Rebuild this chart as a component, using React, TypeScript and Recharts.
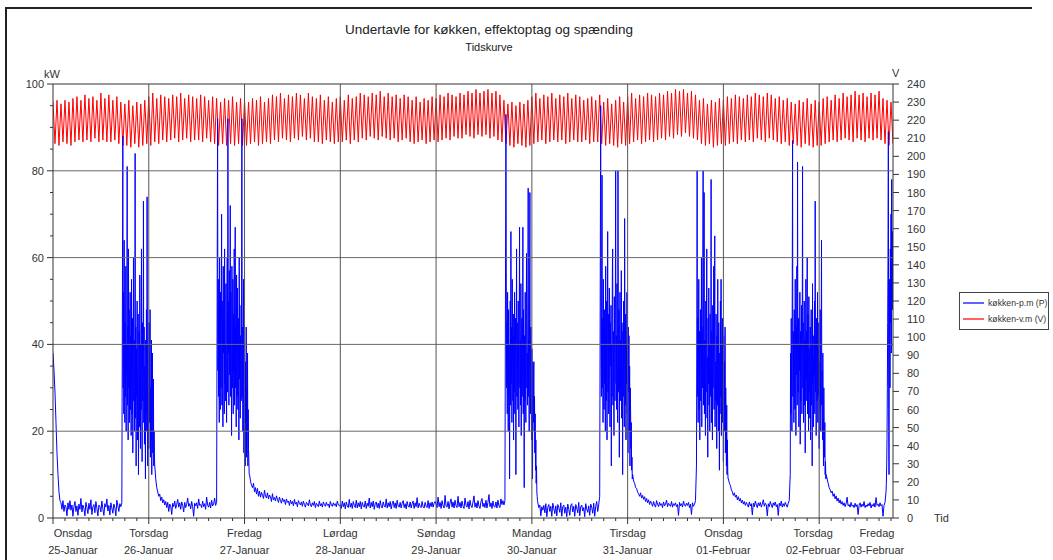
import { ComposedChart, Line, XAxis, YAxis, ReferenceLine, Legend } from 'recharts';

const dayNames = ['Onsdag', 'Torsdag', 'Fredag', 'Lørdag', 'Søndag', 'Mandag', 'Tirsdag', 'Onsdag', 'Torsdag', 'Fredag'];
const dateNames = ['25-Januar', '26-Januar', '27-Januar', '28-Januar', '29-Januar', '30-Januar', '31-Januar', '01-Februar', '02-Februar', '03-Februar'];
// where the day captions sit (hours from 25-Jan 00:00); first and last are pulled inside the plot
const labelHours = [5, 24, 48, 72, 96, 120, 144, 168, 190.5, 206.5];
const dayLines = [24, 48, 72, 96, 120, 144, 168, 192];
const kwGrid = [20, 40, 60, 80];

// køkken-p.m (P), kW, one reading per 15 min
const powerWed25 = [
	38, 34, 29, 22, 15, 10, 6, 4, 3.5, 2, 4, 1.5,
	3, 2.5, 0.5, 3.5, 2, 4, 1.8, 3, 0.4, 2.6, 3.8, 1.5,
	2.8, 0.6, 3.2, 2, 4.5, 1.4, 3, 2.2, 0.5, 3.6, 2.4, 1,
	3.4, 2, 4.2, 0.8, 2.6, 3.1, 1.2, 3.8, 2.2, 0.5, 3, 2.6,
	1.4, 3.9, 2.1, 0.6, 3.3, 2.5, 4.4, 1.6, 2.9, 0.7, 3.5, 2.3,
	1.1, 3.2, 2.4, 0.5, 4.1, 2.8, 1.5, 3.3, 2.6, 3.5, 88, 30,
	42, 20, 80, 26, 45, 18, 38, 24, 84, 14, 40, 22,
	48, 12, 36, 25, 72, 16, 44, 10, 46, 22, 74, 18,
];
const powerThu26 = [
	42, 14, 48, 12, 38, 10, 12, 9, 7, 6, 5, 5.5,
	4, 4.8, 3.5, 4.2, 3, 3.8, 2.4, 3.6, 1.5, 3.2, 2.8, 0.8,
	3.4, 2.6, 3.9, 2.2, 3.1, 4.3, 2.5, 3.5, 2, 3.7, 2.9, 1.4,
	3.6, 2.4, 3.2, 4.6, 2.7, 3.3, 2.1, 3.8, 2.6, 0.4, 3.4, 2.8,
	3.5, 2.2, 4.4, 2.9, 3.1, 2.4, 3.9, 2.6, 3.3, 2, 4.8, 3,
	2.5, 3.6, 2.3, 4.1, 2.8, 3.2, 4.6, 2.9, 3.6, 92, 28, 60,
	22, 70, 18, 44, 24, 40, 16, 92, 26, 72, 20, 46,
	24, 67, 18, 42, 26, 38, 14, 48, 20, 92, 24, 40,
];
const powerFri27 = [
	16, 44, 12, 36, 18, 10, 8.5, 7.5, 7, 8, 6, 7,
	5.5, 6.8, 5, 6.2, 4.8, 5.9, 5.2, 4.5, 6.4, 5, 4.6, 5.8,
	4.4, 5.3, 4.9, 3.8, 5.6, 4.2, 4.7, 3.9, 5.1, 4.3, 3.6, 4.8,
	4, 3.4, 4.6, 3.8, 4.2, 3.1, 4.4, 3.6, 3.9, 2.9, 4.1, 3.3,
	3.8, 2.8, 4.3, 3.2, 3.6, 2.6, 4, 3.4, 3, 3.7, 2.7, 3.9,
	3.1, 2.5, 3.6, 3.3, 2.8, 4.2, 3, 2.6, 3.5, 2.9, 3.8, 2.4,
	3.4, 3, 2.6, 3.9, 2.8, 3.3, 2.5, 3.7, 3.1, 2.7, 3.6, 2.9,
	3.2, 2.4, 3.8, 3, 2.7, 3.5, 2.9, 3.3, 2.6, 3.9, 3, 2.8,
];
const powerSat28 = [
	3.1, 2.2, 3.9, 2.6, 3.5, 2.1, 3.7, 2.8, 2.4, 4.3, 2.5, 3.4,
	2.2, 3.8, 2.9, 2.4, 4.1, 2.3, 3.5, 2.6, 3.8, 2.1, 3.6, 2.8,
	2.5, 3.9, 2.2, 3.4, 2.7, 4.6, 2.3, 3.6, 2.6, 3.9, 2, 3.3,
	3.7, 2.4, 3.4, 2.2, 4, 2.7, 2.3, 3.7, 2.8, 2.5, 4.4, 2.3,
	3.5, 2.6, 3.8, 2.1, 3.3, 3.9, 2.4, 3.5, 2.2, 4.1, 2.7, 2.5,
	3.6, 2.3, 3.4, 4, 2.4, 3.3, 2.1, 3.8, 2.7, 2.5, 3.7, 2.3,
	3.3, 3.9, 2.2, 3.5, 2.6, 4.7, 2.3, 3.4, 2.7, 2.4, 3.8, 2.6,
	2.3, 3.6, 2.7, 2.4, 4, 2.2, 3.5, 2.6, 3.7, 2.5, 3.4, 3.8,
];
const powerSun29 = [
	3.2, 2.4, 4.8, 2.6, 3.6, 2.2, 4, 2.8, 2.3, 5.2, 2.7, 2.5,
	3.8, 2.1, 3.5, 4.4, 2.5, 3.7, 2.3, 4.1, 2.8, 2.4, 5, 2.6,
	3.6, 2.3, 3.9, 2.7, 2.2, 4.6, 2.9, 2.5, 3.8, 2.1, 4.1, 2.8,
	2.4, 3.7, 5.1, 2.5, 3.5, 2.3, 4, 2.7, 2.2, 3.8, 4.5, 2.6,
	3.4, 2.4, 4.1, 2.3, 3.6, 5.4, 2.6, 3.5, 2.2, 3.9, 2.7, 2.5,
	3.7, 2.3, 4.1, 2.8, 2.4, 4.4, 3.1, 4, 3, 4, 93, 28,
	59, 22, 40, 14, 66, 24, 46, 20, 42, 9, 62, 26,
	67, 18, 42, 24, 67, 16, 40, 22, 61, 10, 76, 20,
];
const powerMon30 = [
	75, 18, 36, 12, 8, 5, 3.5, 2.4, 3, 0.5, 2.6, 1.8,
	2.9, 1.2, 3.3, 0.3, 2.5, 3.1, 1.5, 2.7, 0.4, 3.4, 2.2, 1,
	2.8, 0.5, 3.1, 2.4, 1.3, 3.5, 0.4, 2.6, 3, 1.1, 2.5, 0.3,
	3.2, 2, 0.6, 2.9, 3.3, 1.4, 2.7, 0.4, 3.1, 2.3, 1.2, 3.6,
	0.5, 2.6, 3, 1.6, 2.4, 0.3, 3.3, 2.1, 1.3, 2.8, 0.6, 3.2,
	2.5, 1.1, 3.4, 0.4, 2.7, 3.8, 1.5, 3, 5, 95, 28, 79,
	22, 44, 16, 66, 24, 40, 12, 46, 20, 62, 26, 38,
	81, 18, 80, 22, 44, 10, 40, 24, 69, 14, 38, 20,
];
const powerTue31 = [
	46, 12, 42, 16, 30, 10, 8.5, 8, 7, 6.8, 6, 5.6,
	5, 5.8, 4.6, 5.2, 4.3, 4.9, 3.8, 4.5, 3.5, 4.2, 3.1, 3.9,
	3.4, 2.7, 3.8, 3, 2.5, 4, 3.2, 2.6, 3.6, 2.9, 3.3, 2.4,
	3.7, 2.8, 3.2, 4.1, 2.6, 3.4, 3, 2.7, 3.8, 2.5, 3.3, 2.9,
	3.5, 2.6, 3.1, 0.6, 3.6, 2.8, 3.3, 2.5, 3.9, 3, 2.7, 3.4,
	2.9, 3.6, 2.4, 3.2, 0.8, 3.5, 2.7, 3.1, 4, 12, 80, 24,
	46, 18, 40, 26, 80, 14, 75, 22, 42, 10, 38, 24,
	48, 16, 78, 20, 40, 12, 65, 26, 44, 18, 55, 14,
];
const powerWed01 = [
	40, 22, 46, 10, 36, 9, 8, 7.5, 6.5, 6, 5.2, 5.8,
	4.8, 5.3, 4.2, 4.9, 3.9, 4.5, 3.5, 4.1, 3.2, 3.8, 2.9, 3.6,
	3.1, 2.5, 3.7, 2.8, 3.3, 0.7, 3.4, 2.6, 3.9, 3, 2.4, 3.5,
	2.8, 3.6, 2.5, 3.2, 4.2, 2.7, 3.4, 3, 0.5, 3.3, 2.6, 3.8,
	3, 2.4, 3.5, 2.9, 3.7, 2.6, 3.1, 0.6, 3.4, 2.8, 3.9, 2.5,
	3.3, 2.7, 3.6, 3, 2.5, 3.4, 4, 10, 46, 87, 22, 44,
	16, 40, 82, 24, 38, 12, 46, 20, 81, 26, 42, 14,
	40, 60, 20, 44, 10, 38, 24, 46, 73, 16, 42, 22,
];
const powerThu02 = [
	48, 18, 40, 64, 20, 36, 12, 10, 9, 8, 7, 6.5,
	5.8, 6.2, 5, 5.6, 4.4, 5.1, 3.9, 4.6, 3.5, 4.2, 3.2, 3.8,
	2.9, 3.5, 2.6, 3.3, 4.8, 2.8, 3.1, 2.5, 3.6, 2.7, 3, 2.4,
	3.4, 2.6, 3.1, 0.8, 2.9, 3.5, 2.5, 3.2, 2.7, 3.8, 2.4, 3,
	2.6, 3.3, 2.8, 3.6, 2.3, 3.1, 2.7, 3.4, 2.5, 4.7, 2.9, 3.2,
	2.6, 3.5, 2.8, 3.1, 0.4, 2.9, 3.6, 10, 25, 89, 20, 60,
	45, 78, 66,
];

// evening cooking periods, finer readings: one per 5 min, starting at blockStarts (hours)
const blockStarts = [17.5, 41.25, 113.5, 137.25, 161.25, 184.75, 208.75];
const blockWed25 = [
	88, 30, 52, 24, 64, 38, 22, 45, 28, 58, 20, 40,
	33, 81, 26, 44, 18, 62, 30, 48, 22, 36, 52, 25,
	42, 19, 55, 31, 24, 46, 15, 38, 60, 27, 41, 20,
	35, 84, 23, 44, 12, 39, 28, 50, 18, 33, 47, 10,
	29, 43, 21, 56, 34, 16, 40, 25, 62, 30, 13, 45,
	27, 38, 73, 22, 44, 17, 35, 28, 9, 41, 24, 48,
	20, 74, 31, 12, 40, 26, 16, 45, 22, 33, 48, 14,
	30, 18, 41, 10, 27, 38, 15, 24, 32, 12, 20, 14,
];
const blockThu26 = [
	92, 34, 55, 28, 48, 22, 60, 36, 25, 52, 30, 44,
	70, 26, 50, 33, 21, 58, 38, 46, 24, 62, 31, 40,
	27, 54, 35, 22, 48, 60, 29, 92, 38, 50, 26, 57,
	33, 45, 72, 28, 52, 36, 19, 58, 41, 30, 55, 24,
	47, 34, 62, 26, 51, 67, 30, 44, 21, 56, 38, 28,
	53, 25, 46, 37, 18, 60, 32, 49, 23, 42, 35, 27,
	50, 92, 28, 44, 20, 38, 55, 15, 40, 26, 33, 12,
	36, 22, 44, 14, 30, 20, 38, 12, 25, 16, 13, 10,
];
const blockSun29 = [
	93, 59, 30, 45, 24, 52, 36, 20, 48, 28, 40, 9,
	34, 50, 26, 66, 31, 44, 22, 55, 38, 27, 47, 18,
	42, 29, 52, 24, 37, 46, 10, 40, 62, 28, 45, 33,
	25, 50, 35, 21, 44, 67, 30, 41, 26, 54, 19, 38,
	46, 28, 36, 67, 24, 48, 33, 7, 42, 27, 52, 31,
	22, 45, 61, 30, 38, 26, 50, 76, 28, 41, 20, 46,
	75, 33, 24, 44, 30, 18, 39, 26, 9, 36, 22, 30,
	36, 20, 28, 15, 24, 11, 18, 8, 12, 6, 5, 4,
];
const blockMon30 = [
	95, 40, 28, 52, 79, 30, 46, 22, 55, 34, 25, 48,
	31, 44, 20, 58, 36, 27, 50, 18, 42, 66, 29, 47,
	24, 38, 53, 30, 21, 45, 35, 49, 12, 40, 28, 56,
	62, 26, 43, 33, 19, 51, 38, 27, 46, 80, 31, 42,
	25, 54, 36, 22, 80, 44, 29, 48, 14, 39, 52, 27,
	41, 30, 57, 23, 45, 35, 10, 43, 28, 50, 33, 21,
	69, 36, 26, 47, 18, 40, 31, 52, 24, 38, 15, 44,
	29, 42, 20, 35, 12, 30, 24, 16, 22, 11, 14, 9,
];
const blockTue31 = [
	12, 40, 80, 28, 46, 22, 38, 55, 25, 43, 18, 36,
	48, 27, 33, 60, 21, 44, 30, 52, 80, 26, 39, 75,
	24, 41, 33, 19, 50, 29, 45, 62, 23, 37, 14, 46,
	31, 53, 26, 40, 20, 47, 35, 28, 78, 22, 43, 33,
	18, 49, 30, 38, 58, 25, 44, 65, 21, 36, 27, 47,
	32, 16, 42, 26, 55, 34, 20, 45, 29, 11, 38, 24,
	50, 28, 55, 19, 40, 31, 46, 22, 35, 13, 42, 26,
	36, 20, 44, 15, 30, 22, 12, 26, 10, 18, 11, 9,
];
const blockWed01 = [
	10, 38, 24, 46, 30, 20, 52, 87, 28, 43, 35, 22,
	48, 31, 25, 55, 40, 19, 44, 33, 58, 26, 82, 37,
	29, 46, 21, 40, 34, 52, 17, 43, 27, 36, 49, 24,
	38, 81, 30, 45, 22, 33, 50, 26, 41, 15, 37, 55,
	27, 43, 32, 60, 24, 47, 36, 20, 51, 29, 39, 23,
	44, 18, 35, 48, 26, 40, 12, 54, 31, 42, 21, 37,
	33, 50, 24, 73, 29, 41, 19, 46, 35, 27, 52, 22,
	39, 28, 45, 16, 36, 25, 48, 31, 20, 42, 64, 26,
	34, 18, 38, 24, 12, 30, 20, 14, 22, 10, 13, 9,
];
const blockFri03 = [
	6, 8, 12, 18, 30, 45, 60, 89, 25, 10, 40, 55,
	30, 62, 45, 70, 38, 78, 50, 66, 48, 65,
];

// køkken-v.m (V), one reading per 30 min
const voltWed25 = [
	230, 207, 231, 206, 229, 208, 231, 207, 230, 206, 232, 208,
	233, 209, 231, 208, 234, 209, 232, 208, 233, 210, 231, 208,
	235, 209, 232, 208, 234, 208, 231, 209, 233, 207, 230, 206,
	229, 206, 231, 205, 228, 207, 230, 205, 229, 206, 231, 207,
];
const voltThu26 = [
	233, 206, 235, 208, 232, 207, 234, 209, 233, 208, 232, 209,
	234, 210, 233, 208, 235, 209, 232, 210, 234, 208, 233, 209,
	232, 209, 234, 208, 233, 210, 231, 208, 233, 207, 232, 206,
	230, 207, 232, 206, 231, 207, 233, 206, 230, 207, 232, 206,
];
const voltFri27 = [
	231, 206, 230, 207, 232, 208, 231, 206, 233, 207, 230, 208,
	232, 207, 234, 209, 233, 208, 235, 210, 232, 209, 234, 208,
	233, 210, 235, 209, 234, 211, 232, 209, 235, 210, 233, 208,
	232, 208, 234, 207, 231, 209, 233, 208, 230, 207, 232, 208,
];
const voltSat28 = [
	233, 208, 231, 209, 234, 207, 232, 209, 233, 208, 235, 210,
	234, 209, 233, 211, 235, 210, 234, 209, 236, 211, 233, 210,
	235, 209, 233, 210, 234, 208, 232, 209, 234, 210, 233, 208,
	231, 207, 233, 208, 230, 209, 232, 207, 231, 208, 233, 209,
];
const voltSun29 = [
	232, 208, 234, 209, 233, 210, 235, 209, 234, 211, 233, 210,
	235, 210, 234, 212, 236, 211, 235, 210, 237, 212, 235, 211,
	236, 212, 237, 210, 235, 211, 236, 209, 234, 208, 231, 207,
	229, 206, 230, 205, 228, 207, 230, 206, 229, 205, 231, 206,
];
const voltMon30 = [
	233, 207, 235, 208, 232, 209, 234, 207, 233, 208, 235, 209,
	232, 208, 234, 209, 233, 207, 235, 208, 232, 209, 234, 208,
	233, 208, 231, 209, 232, 207, 233, 208, 231, 208, 234, 207,
	230, 206, 232, 207, 229, 206, 231, 205, 233, 207, 230, 206,
];
const voltTue31 = [
	233, 207, 235, 208, 232, 209, 234, 207, 233, 208, 235, 209,
	234, 208, 233, 209, 235, 210, 234, 209, 236, 211, 235, 210,
	237, 212, 236, 211, 237, 213, 235, 211, 236, 210, 234, 209,
	231, 207, 232, 206, 229, 207, 231, 205, 230, 206, 232, 207,
];
const voltWed01 = [
	231, 206, 233, 207, 232, 208, 234, 207, 233, 209, 232, 208,
	234, 209, 233, 208, 235, 210, 234, 209, 233, 208, 235, 210,
	234, 209, 232, 208, 233, 207, 231, 208, 232, 206, 230, 207,
	229, 206, 231, 205, 230, 207, 232, 206, 229, 205, 231, 206,
];
const voltThu02 = [
	230, 206, 232, 207, 233, 208, 231, 209, 234, 208, 232, 209,
	235, 210, 233, 209, 234, 208, 236, 210, 234, 209, 235, 208,
	233, 210, 235, 209, 234, 210, 236, 209, 232, 207, 231, 206,
	230, 207,
];

const powerDays = [powerWed25, powerThu26, powerFri27, powerSat28, powerSun29, powerMon30, powerTue31, powerWed01, powerThu02];
const blockDays = [blockWed25, blockThu26, blockSun29, blockMon30, blockTue31, blockWed01, blockFri03];
const voltDays = [voltWed25, voltThu26, voltFri27, voltSat28, voltSun29, voltMon30, voltTue31, voltWed01, voltThu02];

const blocks = blockDays.map((values, i) => ({ start: blockStarts[i], end: blockStarts[i] + values.length / 12, values }));
const inBlock = (t: number) => blocks.some((b) => t >= b.start - 1e-6 && t < b.end - 1e-6);

const powerData = [
	...powerDays.flatMap((day, d) => day.map((kw, i) => ({ t: d * 24 + i * 0.25, kw }))).filter((p) => !inBlock(p.t)),
	...blocks.flatMap((b) => b.values.map((kw, i) => ({ t: b.start + i / 12, kw }))),
].sort((a, b) => a.t - b.t);
const voltData = voltDays.flatMap((day, d) => day.map((v, i) => ({ t: d * 24 + i * 0.5, v })));

const minorHours = Array.from({ length: 71 }, (_, i) => i * 3);
const xTicks = [...new Set([...minorHours, ...labelHours])].sort((a, b) => a - b);
const kwTicks = Array.from({ length: 21 }, (_, i) => i * 5);
const voltTicks = Array.from({ length: 25 }, (_, i) => i * 10);

const FONT = '"Liberation Sans", Arial, sans-serif';
const INK = '#333';

const XTick = (props: any) => {
	const { x, y, payload } = props;
	const h = payload.value;
	const idx = labelHours.indexOf(h);
	return (
		<g>
			{h % 3 === 0 && <line x1={x} x2={x} y1={y} y2={y + (h % 24 === 0 ? 6 : 3)} stroke={INK} />}
			{idx >= 0 && (
				<text x={x} y={y} textAnchor='middle' fontSize={11} fill={INK} fontFamily={FONT}>
					<tspan x={x} dy={19}>{dayNames[idx]}</tspan>
					<tspan x={x} dy={17}>{dateNames[idx]}</tspan>
				</text>
			)}
		</g>
	);
};

const KwTick = (props: any) => {
	const { x, y, payload } = props;
	const major = payload.value % 20 === 0;
	return (
		<g>
			<line x1={x} x2={x - (major ? 6 : 3)} y1={y} y2={y} stroke={INK} />
			{major && (
				<text x={x - 9} y={y + 4} textAnchor='end' fontSize={11} fill={INK} fontFamily={FONT}>
					{payload.value}
				</text>
			)}
		</g>
	);
};

const VoltTick = (props: any) => {
	const { x, y, payload } = props;
	return (
		<g>
			<line x1={x} x2={x + 6} y1={y} y2={y} stroke={INK} />
			<text x={x + 14} y={y + 4} textAnchor='start' fontSize={11} fill={INK} fontFamily={FONT}>
				{payload.value}
			</text>
		</g>
	);
};

const renderLegend = () => (
	<div
		style={{
			border: '1px solid #444',
			background: '#fff',
			padding: '2px 3px',
			fontFamily: FONT,
			fontSize: 8.7,
			color: INK,
			lineHeight: '16px',
			whiteSpace: 'nowrap',
			width: 82,
		}}
	>
		<div style={{ display: 'flex', alignItems: 'center' }}>
			<span style={{ width: 21, height: 2, background: '#6262ff', marginRight: 4, flex: 'none' }} />
			køkken-p.m (P)
		</div>
		<div style={{ display: 'flex', alignItems: 'center' }}>
			<span style={{ width: 21, height: 2, background: '#ff6262', marginRight: 4, flex: 'none' }} />
			køkken-v.m (V)
		</div>
	</div>
);

const App = () => {
	return (
		<div style={{ position: 'absolute', left: 0, top: 0, width: 1053, height: 560, background: '#fff', fontFamily: FONT }}>
			<div style={{ position: 'absolute', left: 5, top: 7, width: 1025, height: 560, borderTop: '2px solid #222', borderLeft: '2px solid #222' }} />
			<div style={{ position: 'absolute', left: 289, width: 400, top: 21, textAlign: 'center', fontSize: 13.5, lineHeight: '18px', color: '#222' }}>
				Undertavle for køkken, effektoptag og spænding
			</div>
			<div style={{ position: 'absolute', left: 389, width: 200, top: 40, textAlign: 'center', fontSize: 11, lineHeight: '14px', color: '#222' }}>
				Tidskurve
			</div>
			<div style={{ position: 'absolute', left: 44, top: 67, fontSize: 11, lineHeight: '14px', color: INK }}>kW</div>
			<div style={{ position: 'absolute', left: 892, top: 66, fontSize: 11, lineHeight: '14px', color: INK }}>V</div>
			<div style={{ position: 'absolute', left: 934, top: 511, fontSize: 11, lineHeight: '14px', color: INK }}>Tid</div>
			<div style={{ position: 'absolute', left: 0, top: 0 }}>
				<ComposedChart width={1053} height={560} margin={{ top: 84, right: 100, bottom: 2, left: 8 }}>
					<XAxis
						dataKey='t'
						type='number'
						domain={[0, 210.5]}
						ticks={xTicks}
						interval={0}
						tick={<XTick />}
						tickLine={false}
						tickSize={0}
						tickMargin={0}
						height={40}
						axisLine={{ stroke: INK }}
						allowDataOverflow
					/>
					<YAxis
						yAxisId='kw'
						orientation='left'
						domain={[0, 100]}
						ticks={kwTicks}
						interval={0}
						tick={<KwTick />}
						tickLine={false}
						tickSize={0}
						tickMargin={0}
						width={45}
						axisLine={{ stroke: INK }}
					/>
					<YAxis
						yAxisId='v'
						orientation='right'
						domain={[0, 240]}
						ticks={voltTicks}
						interval={0}
						tick={<VoltTick />}
						tickLine={false}
						tickSize={0}
						tickMargin={0}
						width={60}
						axisLine={{ stroke: INK }}
					/>
					<Legend
						layout='vertical'
						align='center'
						verticalAlign='middle'
						wrapperStyle={{ left: 959, top: 292, width: 'auto' }}
						content={renderLegend}
					/>
					<Line
						yAxisId='v'
						data={voltData}
						dataKey='v'
						name='køkken-v.m (V)'
						stroke='#ff0000'
						strokeWidth={1}
						dot={false}
						type='linear'
						isAnimationActive={false}
					/>
					<Line
						yAxisId='kw'
						data={powerData}
						dataKey='kw'
						name='køkken-p.m (P)'
						stroke='#0000ff'
						strokeWidth={1}
						dot={false}
						type='linear'
						isAnimationActive={false}
					/>
					{kwGrid.map((v) => (
						<ReferenceLine key={'h' + v} yAxisId='kw' y={v} stroke='#6a6a6a' strokeWidth={1} />
					))}
					{dayLines.map((h) => (
						<ReferenceLine key={'d' + h} yAxisId='kw' x={h} stroke='#555' strokeWidth={1} />
					))}
					<ReferenceLine yAxisId='kw' y={100} stroke={INK} strokeWidth={1} />
				</ComposedChart>
			</div>
		</div>
	);
};

export default App;
